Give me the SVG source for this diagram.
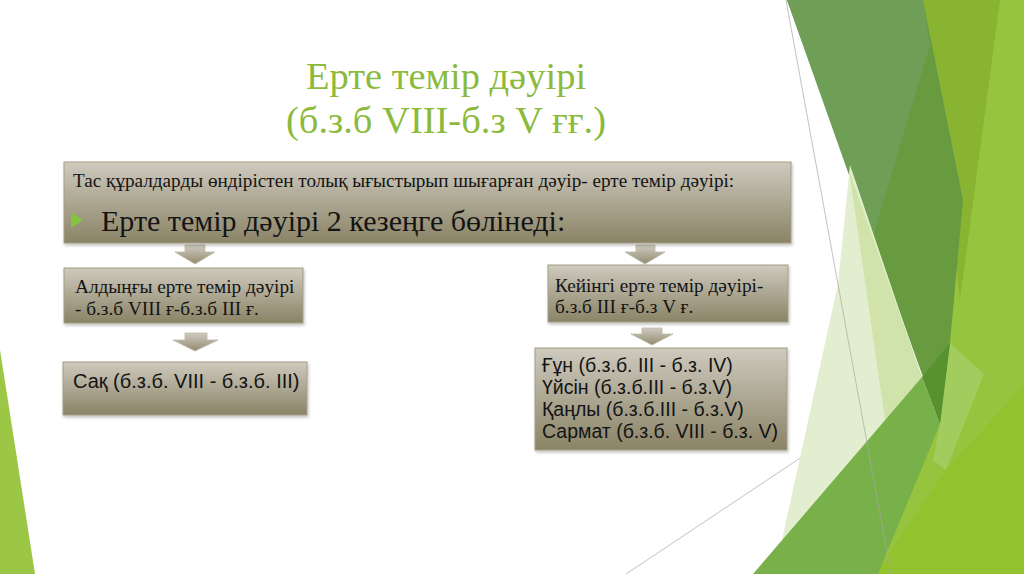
<svg xmlns="http://www.w3.org/2000/svg" width="1024" height="574" viewBox="0 0 1024 574">
<defs>
<linearGradient id="boxg" x1="0" y1="0" x2="0" y2="1">
<stop offset="0" stop-color="#cecabe"/>
<stop offset="1" stop-color="#8a8366"/>
</linearGradient>
<linearGradient id="arrg" x1="0" y1="0" x2="0" y2="1">
<stop offset="0" stop-color="#cfcbc0"/>
<stop offset="1" stop-color="#928b6f"/>
</linearGradient>
<filter id="sh" x="-5%" y="-10%" width="110%" height="130%">
<feDropShadow dx="1" dy="2" stdDeviation="1.5" flood-color="#000" flood-opacity="0.25"/>
</filter>
<style>
.box{fill:url(#boxg);stroke:#a39d84;stroke-width:1;filter:url(#sh)}
.arr{fill:url(#arrg);stroke:#bdb8a6;stroke-width:0.8}
.serif{font-family:"Liberation Serif","Times New Roman",serif;fill:#141414}
.sans{font-family:"Liberation Sans",Arial,sans-serif;fill:#141414}
.title{font-family:"Liberation Serif","Times New Roman",serif;fill:#8bba3d;font-size:38.5px;text-anchor:middle}
.thin{stroke:#a8a8a8;stroke-width:1;fill:none;opacity:0.7}
</style>
</defs>
<rect width="1024" height="574" fill="#ffffff"/>
<g id="background">
<polygon points="0,350 35,574 0,574" fill="#9cc646"/>
<line class="thin" x1="620" y1="578" x2="922" y2="377"/>
<polygon points="923,0 1024,0 1024,574 860,574 940,424" fill="#97c43e"/>
<polygon points="923,0 1000,0 960,300" fill="#88b432"/>
<polygon points="787,0 923,0 963,200 950,343 940,424" fill="#689b40"/>
<polygon points="787,0 923,0 930,45 872,240" fill="#6f9e57"/>
<polygon points="850,165 922,377 782,540 838,284" fill="#e2eecf"/>
<polygon points="849,170 922,377 885,420" fill="#cfe3aa"/>
<polygon points="950,343 984,374 946,470 933,460 940,424" fill="#a2cc5e"/>
<polygon points="875,574 1024,574 1024,385 946,470" fill="#92c22d"/>
<polygon points="753,574 922,377 940,424 878,574" fill="#78b04a"/>
<polygon points="922,377 950,343 940,424" fill="#57922f"/>
<line class="thin" x1="786" y1="0" x2="891" y2="574"/>
</g>
<g id="title">
<text class="title" x="446" y="89">Ерте темір дәуірі</text>
<text class="title" x="446" y="133">(б.з.б VIII-б.з V ғғ.)</text>
</g>
<g id="connectors">
<polygon class="arr" points="185,245 205,245 205,252 215,252 195,264 175,252 185,252"/>
<polygon class="arr" points="636,245 655,245 655,252 665,252 645,264 625,252 636,252"/>
<polygon class="arr" points="185,333 207,333 207,340 218,340 195,351 173,340 185,340"/>
<polygon class="arr" points="642,328 662,328 662,334 673,334 652,345 631,334 642,334"/>
</g>
<g id="main">
<rect class="box" x="64" y="162" width="727" height="81"/>
<text class="serif" x="73" y="187" font-size="19.2">Тас құралдарды өндірістен толық ығыстырып шығарған дәуір- ерте темір дәуірі:</text>
<polygon points="71,212 83,220 71,228" fill="#84c341"/>
<text class="serif" x="101" y="231" font-size="30">Ерте темір дәуірі 2 кезеңге бөлінеді:</text>
</g>
<g id="early">
<rect class="box" x="64" y="268" width="239" height="55"/>
<text class="serif" x="75" y="293" font-size="19.3">Алдыңғы ерте темір дәуірі</text>
<text class="serif" x="75" y="315" font-size="19.3">- б.з.б VIII ғ-б.з.б III ғ.</text>
</g>
<g id="sak">
<rect class="box" x="63" y="362" width="244" height="53"/>
<text class="sans" x="73" y="388" font-size="20">Сақ (б.з.б. VIII - б.з.б. III)</text>
</g>
<g id="late">
<rect class="box" x="548" y="265" width="240" height="57"/>
<text class="serif" x="555" y="292" font-size="19.3">Кейінгі ерте темір дәуірі-</text>
<text class="serif" x="555" y="313" font-size="19.3">б.з.б III ғ-б.з V ғ.</text>
</g>
<g id="tribes">
<rect class="box" x="535" y="348" width="252" height="102"/>
<text class="sans" x="542" y="372" font-size="19.5">Ғұн (б.з.б. III - б.з. IV)</text>
<text class="sans" x="542" y="394" font-size="19.5">Үйсін (б.з.б.III - б.з.V)</text>
<text class="sans" x="542" y="416" font-size="19.5">Қаңлы (б.з.б.III - б.з.V)</text>
<text class="sans" x="542" y="438" font-size="19.5">Сармат (б.з.б. VIII - б.з. V)</text>
</g>
</svg>
